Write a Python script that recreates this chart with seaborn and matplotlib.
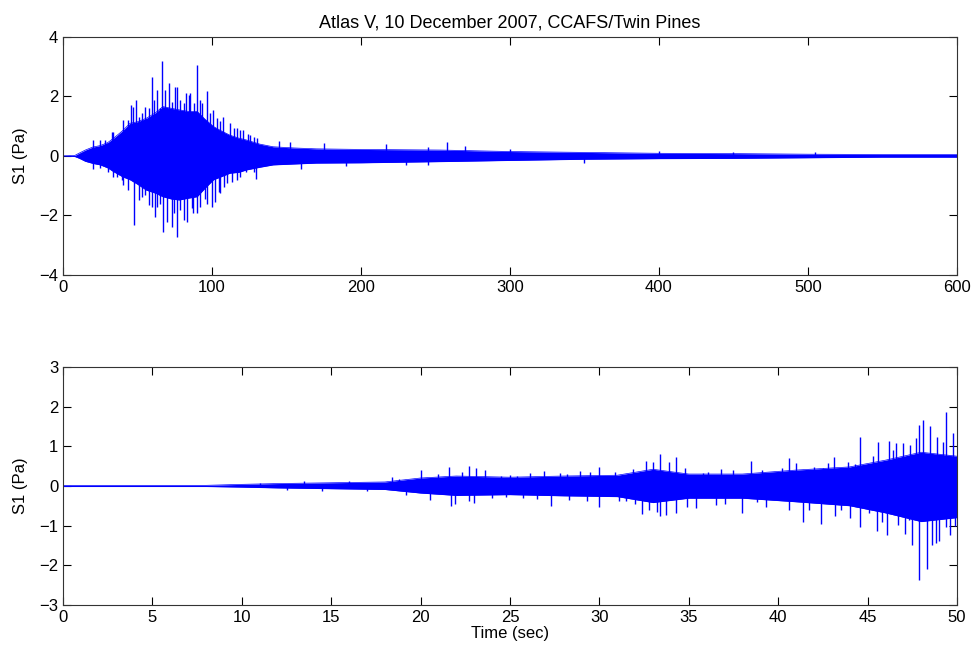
import matplotlib
matplotlib.use("Agg")
import matplotlib.pyplot as plt
import seaborn as sns
import pandas as pd

# ---- data ----
# Top panel (0-600 s): dense core of the trace (upper / lower edge)
top_t = [0, 8, 11, 15, 20, 25, 30, 34, 40, 45, 50, 56, 62, 67, 73, 78, 84, 90, 95, 101,
         106, 112, 118, 123, 132, 141, 155, 170, 200, 253, 300, 350, 400, 450, 500, 550, 600]
top_up = [0.0, 0.02, 0.1, 0.2, 0.3, 0.35, 0.45, 0.6, 0.85, 1.1, 1.15, 1.27, 1.45, 1.66,
          1.6, 1.55, 1.5, 1.5, 1.25, 0.99, 0.85, 0.7, 0.6, 0.54, 0.4, 0.31, 0.27, 0.24, 0.22,
          0.2, 0.15, 0.12, 0.09, 0.08, 0.06, 0.05, 0.05]
top_lo = [0.0, -0.02, -0.08, -0.18, -0.25, -0.3, -0.4, -0.53, -0.7, -0.8, -0.95, -1.15,
          -1.25, -1.37, -1.45, -1.48, -1.42, -1.37, -1.1, -0.8, -0.7, -0.58, -0.55, -0.47,
          -0.38, -0.3, -0.27, -0.24, -0.23, -0.19, -0.15, -0.11, -0.09, -0.08, -0.06, -0.04,
          -0.04]
# Top panel: individual peaks (time, value)
top_pk_t = [20.4, 20.4, 28.2, 33.8, 33.8, 40.5, 40.5, 45.6, 47.9, 48.8, 55, 55, 59.5, 59.5,
            62.9, 62.9, 66.7, 66.9, 70.8, 73, 75.2, 76.3, 78.5, 82.6, 83.5, 85.2, 87.5, 89.7,
            90.2, 93.1, 96.4, 96.4, 100.9, 102, 105.3, 107.6, 109.8, 112, 116.6, 116.6, 121,
            123, 124.4, 125.5, 129.5, 130, 145, 152.3, 160, 175, 190, 217, 230, 245, 245, 258,
            270, 300, 350, 400, 450, 505,
            24.9, 29.4, 32.7, 36.1, 39.4, 43.9, 47.3, 50.7, 52.9, 57.4, 61.2, 64.8, 68.6,
            73.1, 76.5, 80.9, 84.3, 87.6, 92.1, 98.8, 103.3, 105.5, 114.5, 119, 127.9,
            24.9, 30.5, 36.1, 39.4, 43.9, 50.7, 52.9, 57.4, 61.9, 64.8, 69.8, 74.2, 78.7,
            80.9, 86.5, 92.1, 95.4, 99.9, 104.4, 107.8, 113.4, 119, 127.9]
top_pk_v = [0.54, -0.45, 0.54, 0.82, -0.7, 1.21, -0.98, 1.72, -2.32, 1.89, 1.66, -1.31, 2.65,
            -1.71, 2.22, -1.71, 3.18, -2.55, 2.45, -2.38, 2.31, -2.72, 1.89, 2.13, -2.21,
            2.11, -1.93, 3.06, -1.93, 1.77, 2.17, -1.6, 1.55, -1.54, -1.26, 1.3, -0.92, 1.1,
            0.93, -0.81, 0.88, -0.53, 0.74, 0.71, -0.79, 0.6, 0.5, 0.48, -0.45, 0.42, -0.35,
            0.4, -0.3, 0.31, -0.3, 0.46, 0.35, 0.25, -0.22, 0.18, 0.15, 0.12,
            0.54, 0.43, 0.82, 0.65, 0.71, 1.21, 1.66, 1.32, 1.44, 1.6, 1.89, 1.6, 2.22,
            1.83, 2.33, 1.77, 2.05, 1.77, 1.89, 1.44, 1.27, 1.16, 0.93, 0.88, 0.65,
            -0.42, -0.53, -0.7, -0.81, -1.14, -1.48, -1.37, -1.65, -2.04, -1.6, -2.21, -1.93,
            -1.82, -2.15, -1.76, -1.71, -1.43, -1.71, -1.2, -1.03, -0.86, -0.7, -0.53]

# Bottom panel (first 50 s): dense core
bot_t = [0, 8, 10, 12, 15, 18, 20, 22, 25, 28, 31, 33, 35, 38, 41, 44, 46, 48, 50]
bot_up = [0.015, 0.015, 0.04, 0.06, 0.08, 0.1, 0.2, 0.25, 0.22, 0.25, 0.27, 0.42, 0.3,
          0.3, 0.4, 0.48, 0.65, 0.85, 0.75]
bot_lo = [-0.015, -0.015, -0.03, -0.05, -0.07, -0.09, -0.18, -0.24, -0.22, -0.25, -0.27,
          -0.42, -0.31, -0.31, -0.4, -0.5, -0.68, -0.9, -0.8]
# Bottom panel: individual peaks (time, value)
bot_pk_t = [18.4, 20.0, 20.5, 21.0, 21.6, 21.7, 21.9, 22.3, 22.7, 22.7, 23.0, 23.1, 23.6,
            24.5, 24.8, 25.4, 25.7, 26.1, 26.9, 27.3, 28.2, 28.3, 28.9, 29.3, 29.5, 30.0,
            30.0, 30.9, 31.1, 31.9, 32.4, 32.6, 32.8, 33.0, 33.4, 33.4, 33.7, 33.9, 34.3,
            34.3, 34.8, 34.9, 35.4, 36.1, 36.5, 36.8, 37.5, 38.0, 38.5, 39.1, 39.3, 39.9,
            40.6, 40.6, 41.0, 41.4, 42.0, 42.4, 42.8, 43.1, 43.2, 43.9, 44.0, 44.6, 44.6,
            45.1, 45.3, 45.5, 45.6, 46.1, 46.2, 46.6, 46.7, 47.0, 47.3, 47.4, 47.5, 47.9,
            47.9, 48.1, 48.3, 48.5, 48.8, 48.9, 49.0, 49.4, 49.4, 49.6, 49.8,
            11.0, 12.5, 13.5, 14.5, 16.0, 17.0, 18.8, 19.2, 24.0, 25.0, 26.5, 27.8, 31.5,
            32.0, 33.2, 35.8, 37.0, 38.8, 40.2, 41.7, 42.5, 43.5, 44.3, 45.8, 46.4, 47.1,
            47.7, 48.6, 49.2, 49.9]
bot_pk_v = [0.22, 0.39, -0.35, 0.3, 0.49, -0.5, -0.45, 0.36, 0.5, -0.39, -0.44, 0.45, 0.39,
            0.25, -0.27, 0.24, -0.31, 0.32, 0.38, -0.5, 0.3, -0.35, 0.38, -0.39, 0.36, 0.47,
            -0.52, 0.36, -0.39, 0.42, -0.71, 0.63, -0.6, 0.61, 0.81, -0.76, -0.73, 0.61,
            0.72, -0.69, 0.45, -0.52, -0.56, 0.36, -0.48, 0.42, 0.4, -0.69, 0.64, 0.4, -0.52,
            0.32, 0.7, -0.6, 0.57, -0.92, 0.49, -0.96, 0.59, 0.72, -0.77, 0.61, -0.82, 1.24,
            -1.04, -0.69, 0.76, -1.13, 1.12, -1.24, 1.14, 1.08, -0.98, 1.09, -0.86, 1.03,
            -1.49, 1.54, -2.37, 1.66, -2.1, 1.5, -1.45, 1.24, -1.4, 1.86, -1.03, -1.24, 1.33,
            0.08, -0.1, 0.12, -0.12, 0.12, -0.12, 0.18, -0.22, -0.3, 0.27, -0.33, 0.33, -0.38,
            -0.45, -0.65, 0.33, -0.45, -0.4, 0.45, -0.6, 0.45, -0.6, 0.55, -0.9, 0.9, -1.2,
            1.2, -1.5, 1.1, -1.0]

title = "Atlas V, 10 December 2007, CCAFS/Twin Pines"
ylab = "S1 (Pa)"
xlab = "Time (sec)"
top_xticks = [0, 100, 200, 300, 400, 500, 600]
top_yticks = [-4, -2, 0, 2, 4]
bot_xticks = [0, 5, 10, 15, 20, 25, 30, 35, 40, 45, 50]
bot_yticks = [-3, -2, -1, 0, 1, 2, 3]

sns.set_style("ticks")
plt.rcParams['font.family'] = ['Liberation Sans', 'DejaVu Sans']
plt.rcParams['font.size'] = 12
plt.rcParams['text.color'] = 'black'
plt.rcParams['axes.labelcolor'] = 'black'
plt.rcParams['axes.titlecolor'] = 'black'

fig = plt.figure(figsize=(9.74, 6.49), dpi=100)
ax1 = fig.add_axes([0.0647, 0.5763, 0.9178, 0.3667])
ax2 = fig.add_axes([0.0647, 0.0680, 0.9178, 0.3665])

blue = (0, 0, 1)

def draw(ax, t, up, lo, pk_t, pk_v, pk_lw):
    df = pd.DataFrame({"t": t, "up": up, "lo": lo})
    ax.fill_between(df["t"], df["lo"], df["up"], color=blue, linewidth=0)
    sns.lineplot(data=df, x="t", y="up", ax=ax, color=blue, linewidth=0.5,
                 estimator=None, sort=False)
    sns.lineplot(data=df, x="t", y="lo", ax=ax, color=blue, linewidth=0.5,
                 estimator=None, sort=False)
    pk = pd.DataFrame({"t": pk_t, "v": pk_v})
    ax.vlines(pk["t"], 0, pk["v"], color=blue, linewidth=pk_lw)

draw(ax1, top_t, top_up, top_lo, top_pk_t, top_pk_v, 1.0)
draw(ax2, bot_t, bot_up, bot_lo, bot_pk_t, bot_pk_v, 1.0)

for ax, xt, yt in [(ax1, top_xticks, top_yticks), (ax2, bot_xticks, bot_yticks)]:
    ax.set_xlim(xt[0], xt[-1])
    ax.set_ylim(yt[0], yt[-1])
    ax.set_xticks(xt)
    ax.set_yticks(yt)
    ax.tick_params(direction="in", top=True, right=True, length=6, width=0.8,
                   labelsize=12, colors="black")
    for s in ax.spines.values():
        s.set_visible(True)
        s.set_linewidth(0.8)
        s.set_color("#333333")
    ax.set_ylabel(ylab, fontsize=12, labelpad=8, color="black")
    ax.set_xlabel("")

ax1.set_title(title, fontsize=13, pad=7, color="black")
ax2.set_xlabel(xlab, fontsize=12, labelpad=1, color="black")

fig.savefig("out.png", dpi=100)
